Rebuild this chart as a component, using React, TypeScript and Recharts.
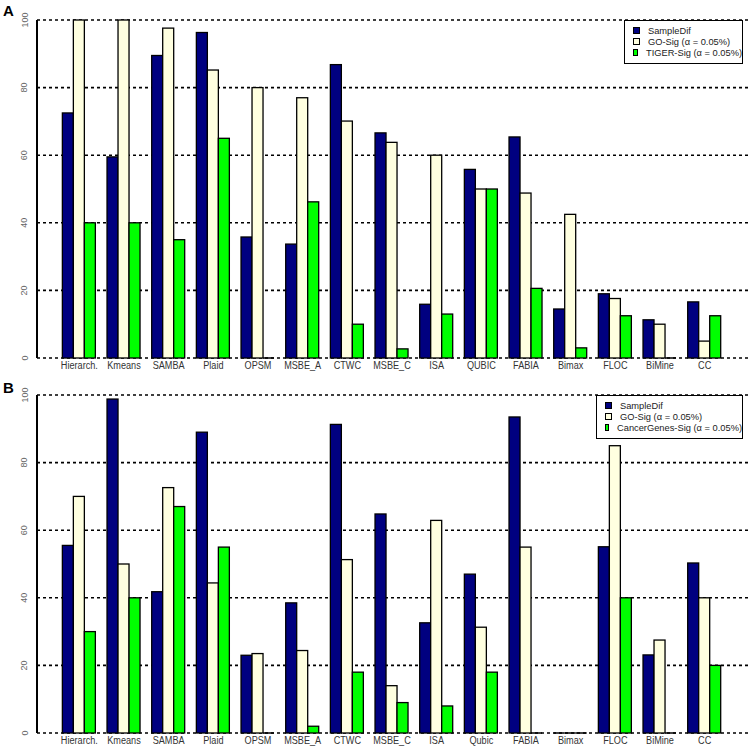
import React from "react";
import { BarChart, Bar, XAxis, YAxis, CartesianGrid, Legend } from "recharts";

const categoriesA = ["Hierarch.", "Kmeans", "SAMBA", "Plaid", "OPSM", "MSBE_A", "CTWC", "MSBE_C", "ISA", "QUBIC", "FABIA", "Bimax", "FLOC", "BiMine", "CC"];
const sampleDifA = [72.5, 59.5, 89.5, 96.3, 35.8, 33.7, 86.8, 66.6, 15.9, 55.8, 65.4, 14.5, 19, 11.3, 16.6];
const goSigA = [100, 100, 97.6, 85.2, 80, 77, 70.1, 63.8, 60, 50, 48.8, 42.5, 17.6, 10, 5];
const tigerSigA = [40, 40, 35, 65, 0, 46.2, 10, 2.7, 13, 50, 20.6, 3, 12.5, 0, 12.5];

const categoriesB = ["Hierarch.", "Kmeans", "SAMBA", "Plaid", "OPSM", "MSBE_A", "CTWC", "MSBE_C", "ISA", "Qubic", "FABIA", "Bimax", "FLOC", "BiMine", "CC"];
const sampleDifB = [55.5, 98.8, 41.8, 89, 23, 38.5, 91.3, 64.8, 32.6, 47, 93.5, 0, 55.1, 23.1, 50.3];
const goSigB = [70, 50, 72.6, 44.4, 23.5, 24.4, 51.3, 14, 62.9, 31.3, 55, 0, 85, 27.5, 40];
const cancerSigB = [30, 40, 67, 55, 0, 2, 18, 9, 8, 18, 0, 0, 40, 0, 20];

const yTicks = [0, 20, 40, 60, 80, 100];

const NAVY = "#000080";
const CREAM = "#FFFFE0";
const GREEN = "#00FF00";
const FONT = "'Liberation Sans', Arial, Helvetica, sans-serif";

const toRows = (cats: string[], a: number[], b: number[], c: number[]) =>
  cats.map((name, i) => ({ name, s1: a[i], s2: b[i], s3: c[i] }));

const BarShape = (props: any) => {
  const { x, y, width, height, fill } = props;
  if (!height || height < 0.5) {
    return <line x1={x} x2={x + width} y1={y} y2={y} stroke="#000" strokeWidth={1.5} />;
  }
  return <rect x={x} y={y} width={width} height={height} fill={fill} stroke="#000" strokeWidth={1.3} />;
};

const XTick = (props: any) => {
  const { x, y, payload } = props;
  return (
    <g transform={`translate(${x},${y})`}>
      <text x={0} y={0} dy={11} textAnchor="middle" fontSize={11} fill="#333" fontFamily={FONT} transform="scale(0.83,1)">
        {payload.value}
      </text>
    </g>
  );
};

const YTick = (props: any) => {
  const { y, payload } = props;
  return (
    <text x={27.5} y={y} textAnchor="middle" fontSize={9} fill="#666" fontFamily={FONT} transform={`rotate(-90, 27.5, ${y})`}>
      {payload.value}
    </text>
  );
};

const LegendBox = ({ labels, width }: { labels: string[]; width: number }) => {
  const colors = [NAVY, CREAM, GREEN];
  return (
    <div
      style={{
        width,
        height: 44,
        boxSizing: "border-box",
        border: "1.5px solid #000",
        background: "#fff",
        paddingTop: 4,
        paddingLeft: 8,
        fontFamily: FONT,
        fontSize: 9.3,
        color: "#222",
      }}
    >
      {labels.map((l, i) => (
        <div key={l} style={{ display: "flex", alignItems: "center", height: 11, whiteSpace: "nowrap" }}>
          <span style={{ display: "inline-block", width: 5, height: 5, background: colors[i], border: "1.2px solid #000", marginRight: 8 }} />
          {l}
        </div>
      ))}
    </div>
  );
};

interface PanelProps {
  letter: string;
  top: number;
  height: number;
  xAxisHeight: number;
  data: { name: string; s1: number; s2: number; s3: number }[];
  labels: string[];
  legendLeft: number;
  legendWidth: number;
}

const Panel = ({ letter, top, height, xAxisHeight, data, labels, legendLeft, legendWidth }: PanelProps) => (
  <div style={{ position: "absolute", left: 0, top, width: 751, height }}>
    <BarChart width={751} height={height} data={data} margin={{ top: 20, right: 3, left: 0, bottom: 0 }} barCategoryGap="12%" barGap={0}>
      <CartesianGrid vertical={false} stroke="#000" strokeWidth={1.6} strokeDasharray="3 3" />
      <XAxis
        dataKey="name"
        interval={0}
        axisLine={false}
        tickLine={false}
        tickSize={0}
        tickMargin={0}
        height={xAxisHeight}
        padding={{ left: 20, right: 21 }}
        tick={<XTick />}
      />
      <YAxis
        domain={[0, 100]}
        ticks={yTicks}
        width={37}
        axisLine={{ stroke: "#000", strokeWidth: 2 }}
        tickLine={false}
        tick={<YTick />}
      />
      <Legend
        layout="vertical"
        align="center"
        verticalAlign="middle"
        wrapperStyle={{ top: 20, left: legendLeft, width: legendWidth }}
        content={() => <LegendBox labels={labels} width={legendWidth} />}
      />
      <Bar dataKey="s1" name={labels[0]} fill={NAVY} shape={<BarShape />} isAnimationActive={false} />
      <Bar dataKey="s2" name={labels[1]} fill={CREAM} shape={<BarShape />} isAnimationActive={false} />
      <Bar dataKey="s3" name={labels[2]} fill={GREEN} shape={<BarShape />} isAnimationActive={false} />
    </BarChart>
    <div style={{ position: "absolute", left: 3, top: letter === "A" ? 2 : 4, fontFamily: FONT, fontWeight: "bold", fontSize: 15 }}>
      {letter}
    </div>
  </div>
);

export default function App() {
  return (
    <div style={{ position: "absolute", left: 0, top: 0, width: 751, height: 749, background: "#fff", overflow: "hidden" }}>
      <Panel
        letter="A"
        top={0}
        height={378}
        xAxisHeight={20}
        data={toRows(categoriesA, sampleDifA, goSigA, tigerSigA)}
        labels={["SampleDif", "GO-Sig (\u03b1 = 0.05%)", "TIGER-Sig (\u03b1 = 0.05%)"]}
        legendLeft={624}
        legendWidth={119}
      />
      <Panel
        letter="B"
        top={375}
        height={374}
        xAxisHeight={16}
        data={toRows(categoriesB, sampleDifB, goSigB, cancerSigB)}
        labels={["SampleDif", "GO-Sig (\u03b1 = 0.05%)", "CancerGenes-Sig (\u03b1 = 0.05%)"]}
        legendLeft={596}
        legendWidth={147}
      />
    </div>
  );
}
